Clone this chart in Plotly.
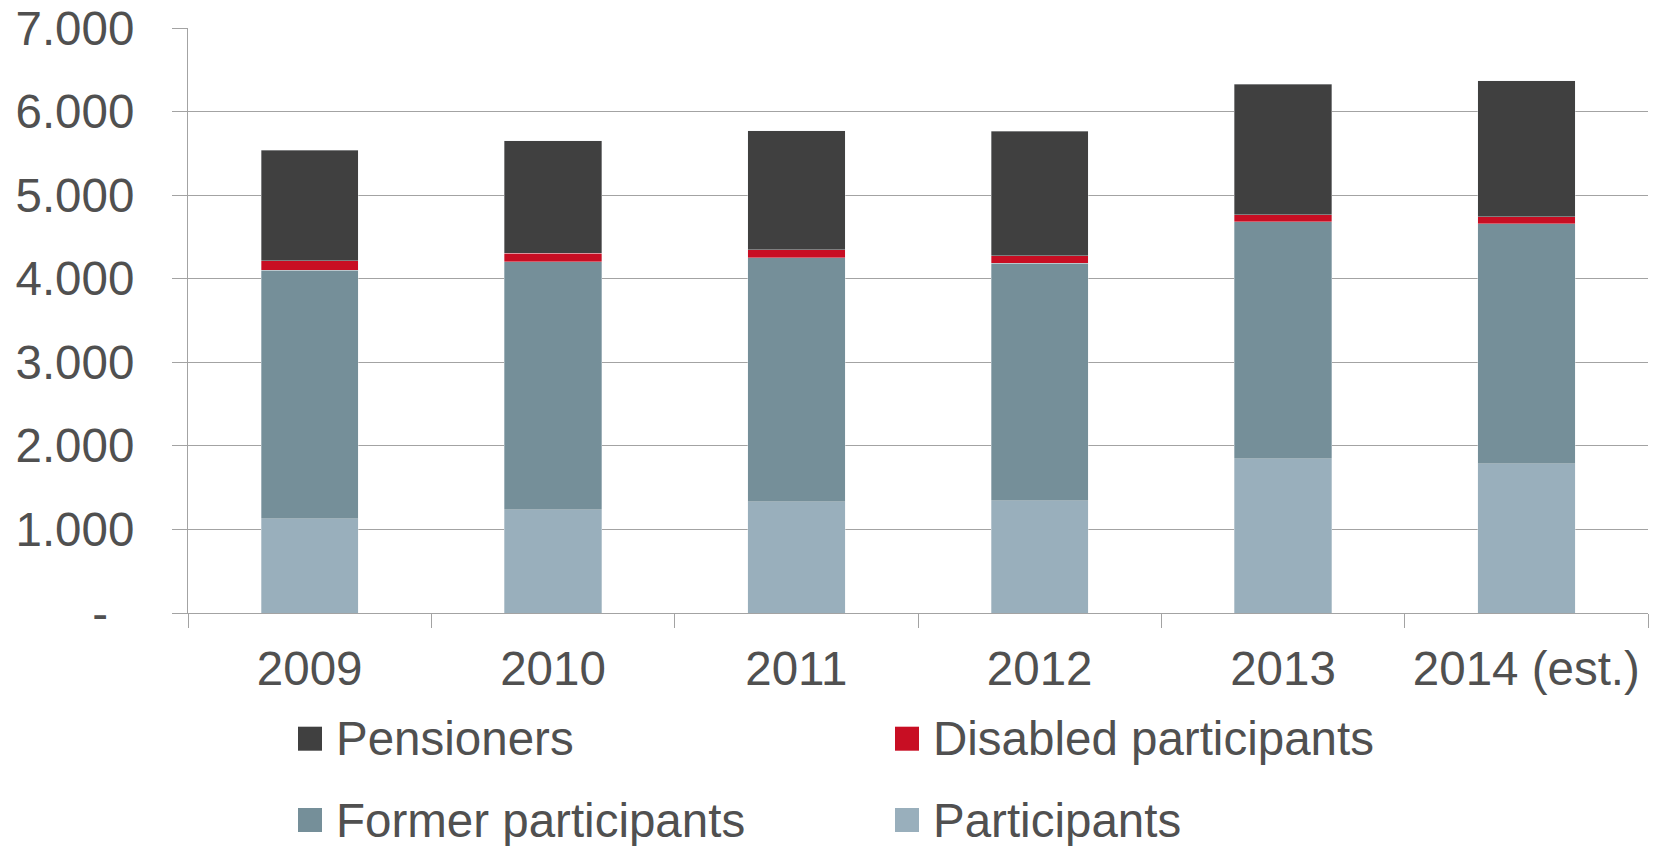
import plotly.graph_objects as go

# ---- data ----
categories = ["2009", "2010", "2011", "2012", "2013", "2014 (est.)"]
participants = [1130, 1236, 1332, 1344, 1846, 1786]
former_participants = [2974, 2968, 2920, 2844, 2836, 2872]
disabled_participants = [112, 102, 95, 87, 84, 84]
pensioners = [1324, 1346, 1424, 1488, 1559, 1628]

y_tickvals = [0, 1000, 2000, 3000, 4000, 5000, 6000, 7000]
y_ticktext = ["-\u00a0\u00a0", "1.000", "2.000", "3.000", "4.000", "5.000", "6.000", "7.000"]

series_names = ["Participants", "Former participants", "Disabled participants", "Pensioners"]
series_values = [participants, former_participants, disabled_participants, pensioners]
series_colors = ["#99AFBC", "#758F99", "#C80E23", "#404040"]

# ---- styling ----
W, H = 1660, 846
M_L, M_R, M_T, M_B = 188, 12, 28, 233
FONT = "Liberation Sans, Arial, sans-serif"
TXT = "#505050"
GRID = "#a3a3a3"
FS = 47.5

fig = go.Figure()
for name, vals, col in zip(series_names, series_values, series_colors):
    fig.add_trace(go.Bar(
        x=categories, y=vals, name=name,
        marker=dict(color=col, line=dict(color="rgba(235,238,240,0.6)", width=0.6)),
        width=0.4, showlegend=False,
    ))

fig.update_layout(
    width=W, height=H,
    margin=dict(l=M_L, r=M_R, t=M_T, b=M_B, pad=0, autoexpand=False),
    barmode="stack",
    paper_bgcolor="white", plot_bgcolor="white",
    font=dict(family=FONT, size=FS, color=TXT),
    showlegend=False,
)
fig.update_xaxes(
    type="category", tickson="boundaries", ticks="outside", ticklen=14,
    tickcolor=GRID, tickwidth=1.3, showline=True, linecolor=GRID, linewidth=1.3,
    showgrid=False, tickfont=dict(size=FS, color=TXT, family=FONT),
    ticklabelstandoff=14, automargin=False,
)
fig.update_yaxes(
    range=[0, 7000], tickvals=y_tickvals, ticktext=y_ticktext,
    ticks="outside", ticklen=15, tickcolor=GRID, tickwidth=1.3,
    showline=True, linecolor=GRID, linewidth=1.3,
    showgrid=True, gridcolor=GRID, gridwidth=1.3, zeroline=False,
    tickfont=dict(size=FS, color=TXT, family=FONT),
    ticklabelstandoff=28, automargin=False,
)

# ---- legend (drawn as shapes + annotations, 2 columns x 2 rows) ----
plot_w = W - M_L - M_R
plot_h = H - M_T - M_B
def px_x(px):
    return (px - M_L) / plot_w
def px_y(py):
    return (H - M_B - py) / plot_h

legend_order = [3, 2, 1, 0]  # Pensioners, Disabled / Former, Participants
col_sq_left = [298, 895]
row_center = [738.7, 820]
SQ = 24
for k, idx in enumerate(legend_order):
    r, c = divmod(k, 2)
    x0 = col_sq_left[c]
    yc = row_center[r]
    fig.add_shape(type="rect", xref="paper", yref="paper",
                  x0=px_x(x0), x1=px_x(x0 + SQ), y0=px_y(yc + SQ / 2), y1=px_y(yc - SQ / 2),
                  fillcolor=series_colors[idx], line=dict(width=0))
    fig.add_annotation(xref="paper", yref="paper", x=px_x(x0 + SQ + 12), y=px_y(yc),
                       text=series_names[idx], showarrow=False, xanchor="left", yanchor="middle",
                       font=dict(size=FS, color=TXT, family=FONT))

fig.write_html("out.html")
